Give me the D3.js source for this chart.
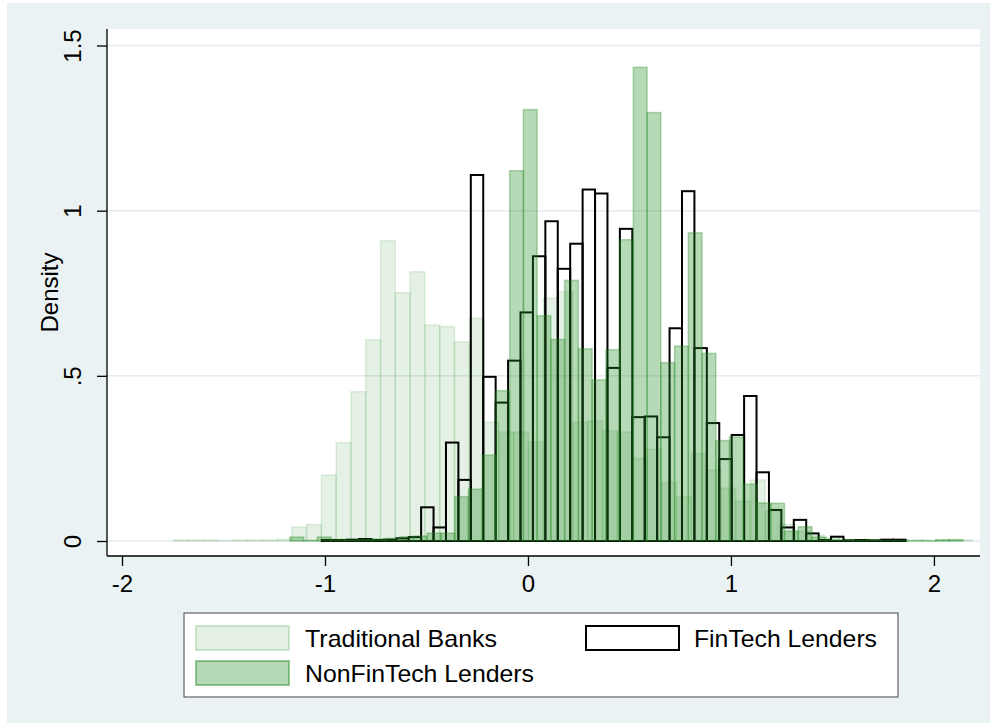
<!DOCTYPE html>
<html>
<head>
<meta charset="utf-8">
<script src="https://cdn.jsdelivr.net/npm/d3@7"></script>
<style>
  body { margin: 0; background: #fff; }
  svg text { font-family: "Liberation Sans", Arial, Helvetica, sans-serif; fill: #000; }
</style>
</head>
<body>
<div id="chart"></div>
<script>
// histogram bins: start, width, density per bin
const tradStart = -1.747, tradWidth = 0.0729;
const tradDensity = [0.003, 0.003, 0.003, 0.001, 0.003, 0.003, 0.003, 0.005, 0.042, 0.05,
  0.2, 0.298, 0.452, 0.609, 0.909, 0.752, 0.815, 0.654, 0.649, 0.603,
  0.674, 0.36, 0.33, 0.33, 0.3, 0.735, 0.755, 0.36, 0.364, 0.334,
  0.33, 0.25, 0.278, 0.177, 0.134, 0.265, 0.215, 0.16, 0.12, 0.185,
  0.09, 0.05, 0.03, 0.018, 0.01, 0.005, 0.004, 0.003, 0.002, 0.002,
  0.003, 0.001, 0.003, 0.003];

const fintechStart = -1.016, fintechWidth = 0.0612;
const fintechDensity = [0.003, 0.003, 0.004, 0.006, 0.003, 0.004, 0.008, 0.012, 0.102, 0.041,
  0.298, 0.185, 1.108, 0.497, 0.419, 0.546, 0.692, 0.862, 0.968, 0.824,
  0.9, 1.064, 1.052, 0.524, 0.945, 0.375, 0.377, 0.314, 0.644, 1.059,
  0.584, 0.357, 0.248, 0.321, 0.439, 0.208, 0.094, 0.041, 0.064, 0.023,
  0.003, 0.013, 0.002, 0.003, 0.002, 0.004, 0.004];

const nonfinStart = -1.1734, nonfinWidth = 0.0677;
const nonfinDensity = [0.012, 0.002, 0.012, 0.005, 0.004, 0.005, 0.006, 0.008, 0.013, 0.015,
  0.024, 0.024, 0.134, 0.157, 0.26, 0.455, 1.121, 1.306, 0.682, 0.61,
  0.789, 0.582, 0.488, 0.579, 0.912, 1.434, 1.297, 0.54, 0.59, 0.933,
  0.568, 0.304, 0.315, 0.172, 0.115, 0.114, 0.03, 0.043, 0.012, 0.004,
  0.003, 0.003, 0.004, 0.002, 0.002, 0.001, 0.001, 0.004, 0.004];

const xTicks = [-2, -1, 0, 1, 2];
const yTicks = [0, 0.5, 1, 1.5];
const yTickLabels = ["0", ".5", "1", "1.5"];
const legendLabels = ["Traditional Banks", "FinTech Lenders", "NonFinTech Lenders"];

const W = 997, H = 728;
const plot = { left: 107, right: 980, top: 29, bottom: 556 };

const svg = d3.select("#chart").append("svg")
    .attr("width", W)
    .attr("height", H);

// outer graph region
svg.append("rect").attr("x", 7).attr("y", 3).attr("width", W - 14).attr("height", H - 8)
    .attr("fill", "#eaf2f3");
svg.append("rect").attr("x", plot.left).attr("y", plot.top)
    .attr("width", plot.right - plot.left).attr("height", plot.bottom - plot.top)
    .attr("fill", "#fff");

const x = d3.scaleLinear().domain([-2.074, 2.227]).range([plot.left, plot.right]);
const y = d3.scaleLinear().domain([-0.0454, 1.55]).range([plot.bottom, plot.top]);

// gridlines
svg.append("g").selectAll("line").data(yTicks).join("line")
    .attr("x1", plot.left).attr("x2", plot.right)
    .attr("y1", d => y(d)).attr("y2", d => y(d))
    .attr("stroke", "#e3ecee").attr("stroke-width", 1.5);

function toBins(start, width, vals) {
    return vals.map((v, i) => ({ x0: start + i * width, x1: start + (i + 1) * width, v }));
}

function drawBars(bins, fill, stroke, sw) {
    svg.append("g").selectAll("rect").data(bins).join("rect")
        .attr("x", d => x(d.x0))
        .attr("width", d => x(d.x1) - x(d.x0))
        .attr("y", d => y(d.v))
        .attr("height", d => y(0) - y(d.v))
        .attr("fill", fill)
        .attr("stroke", stroke)
        .attr("stroke-width", sw);
}

// draw order: traditional, fintech, nonfintech (translucent on top)
drawBars(toBins(tradStart, tradWidth, tradDensity), "rgba(34,139,34,0.12)", "rgba(34,139,34,0.12)", 1.5);
drawBars(toBins(fintechStart, fintechWidth, fintechDensity), "none", "#000", 2);
drawBars(toBins(nonfinStart, nonfinWidth, nonfinDensity), "rgba(34,139,34,0.33)", "rgba(34,139,34,0.33)", 1.5);

// axes
const yAxis = svg.append("g")
    .attr("transform", `translate(${plot.left},0)`)
    .call(d3.axisLeft(y).tickValues(yTicks).tickSize(10).tickSizeOuter(0).tickFormat((d, i) => yTickLabels[i]));
yAxis.select(".domain").attr("stroke", "#000").attr("stroke-width", 1.3)
    .attr("d", `M0,${plot.top}V${plot.bottom}`);
yAxis.selectAll(".tick line").attr("stroke", "#000").attr("stroke-width", 1.3);
yAxis.selectAll(".tick text")
    .attr("font-size", 24)
    .attr("transform", "rotate(-90)")
    .attr("x", 0).attr("y", -26)
    .attr("dy", 0)
    .attr("text-anchor", "middle");

const xAxis = svg.append("g")
    .attr("transform", `translate(0,${plot.bottom})`)
    .call(d3.axisBottom(x).tickValues(xTicks).tickSize(10).tickSizeOuter(0).tickFormat(d3.format("d")));
xAxis.select(".domain").attr("stroke", "#000").attr("stroke-width", 1.3)
    .attr("d", `M${plot.left},0H${plot.right}`);
xAxis.selectAll(".tick text").attr("font-size", 24).attr("y", 36).attr("dy", 0)
    .text(d => d < 0 ? "-" + Math.abs(d) : d);
xAxis.selectAll(".tick line").attr("stroke", "#000").attr("stroke-width", 1.3);

svg.append("text")
    .attr("transform", `translate(58,${(plot.top + plot.bottom) / 2}) rotate(-90)`)
    .attr("text-anchor", "middle")
    .attr("font-size", 24)
    .text("Density");

// legend
const lg = svg.append("g");
lg.append("rect").attr("x", 184).attr("y", 613).attr("width", 714).attr("height", 84)
    .attr("fill", "#fff").attr("stroke", "#444").attr("stroke-width", 1);
const legendItems = [
    { label: legendLabels[0], sx: 196, sy: 626, tx: 305, len: 192, fill: "rgba(34,139,34,0.12)", stroke: "rgba(34,139,34,0.2)" },
    { label: legendLabels[1], sx: 586, sy: 626, tx: 694, len: 183, fill: "#fff", stroke: "#000" },
    { label: legendLabels[2], sx: 196, sy: 661, tx: 305, len: 229, fill: "rgba(34,139,34,0.33)", stroke: "rgba(34,139,34,0.45)" }
];
legendItems.forEach(d => {
    lg.append("rect").attr("x", d.sx).attr("y", d.sy).attr("width", 93).attr("height", 24)
        .attr("fill", d.fill).attr("stroke", d.stroke).attr("stroke-width", 2);
    lg.append("text").attr("x", d.tx).attr("y", d.sy + 21)
        .attr("font-size", 24)
        .attr("textLength", d.len)
        .attr("lengthAdjust", "spacingAndGlyphs")
        .text(d.label);
});
</script>
</body>
</html>
